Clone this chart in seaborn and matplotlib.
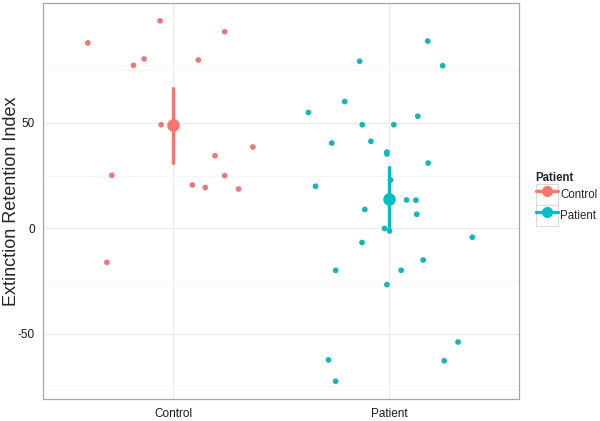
import matplotlib
matplotlib.use("Agg")
import matplotlib.pyplot as plt
import pandas as pd
import seaborn as sns
from matplotlib.legend_handler import HandlerLine2D
from matplotlib.lines import Line2D
from matplotlib.patches import Rectangle
from matplotlib.ticker import FixedLocator

# Dados (valores individuais e deslocamento horizontal do jitter)
groups = ["Control", "Patient"]
colors = {"Control": "#F8766D", "Patient": "#00BFC4"}
point_colors = {"Control": "#E67A7C", "Patient": "#14B6B9"}

control_values = [87.9, 98.4, 93.2, 77.3, 80.3, 79.8, 49.1, 25.1, 34.4, 38.5,
                  24.9, 20.5, 19.3, 18.6, -16.2]
control_jitter = [-0.394, -0.060, 0.239, -0.183, -0.134, 0.117, -0.055, -0.283,
                  0.194, 0.369, 0.239, 0.089, 0.149, 0.303, -0.306]

patient_values = [88.8, 77.1, 79.2, 60.1, 54.9, 53.1, 49.1, 49.1, 40.4, 41.2,
                  36.1, 35.2, 30.9, 19.9, 22.9, 13.4, 13.3, 8.9, 6.6, -0.1,
                  -1.3, -4.3, -6.8, -15.1, -20.0, -20.0, -26.8, -54.0, -62.5,
                  -62.9, -72.6]
patient_jitter = [0.178, 0.247, -0.137, -0.206, -0.374, 0.132, -0.125, 0.021,
                  -0.266, -0.085, -0.011, -0.011, 0.180, -0.341, 0.006, 0.080,
                  0.123, -0.113, 0.127, -0.022, 0.001, 0.384, -0.126, 0.157,
                  -0.248, 0.055, -0.011, 0.318, -0.281, 0.254, -0.248]

y_ticks = [-50, 0, 50]
y_minor = [-75, -25, 25, 75]

df = pd.DataFrame({
    "group": ["Control"] * len(control_values) + ["Patient"] * len(patient_values),
    "value": control_values + patient_values,
    "jitter": control_jitter + patient_jitter,
})
df["xpos"] = df["group"].map({g: i for i, g in enumerate(groups)}) + df["jitter"]

sns.set_theme(style="white")
plt.rcParams["font.family"] = ["Liberation Sans", "DejaVu Sans"]


class BoxedHandler(HandlerLine2D):
    """Chave da legenda com moldura cinza, no estilo do ggplot."""
    def create_artists(self, legend, orig_handle, xdescent, ydescent,
                       width, height, fontsize, trans):
        artists = super().create_artists(legend, orig_handle, xdescent, ydescent,
                                         width, height, fontsize, trans)
        box = Rectangle((-xdescent, -ydescent), width, height, facecolor="white",
                        edgecolor="#d9d9d9", linewidth=0.8, transform=trans)
        return [box] + list(artists)


fig, ax = plt.subplots(figsize=(6, 4.21), dpi=100)
fig.subplots_adjust(left=0.0722, right=0.865, top=0.9936, bottom=0.0515)

# Pontos individuais (jitter)
sns.scatterplot(data=df, x="xpos", y="value", hue="group", palette=point_colors,
                s=17, linewidth=0, legend=False, ax=ax, zorder=3)

# Média com intervalo de confiança de 95%
sns.pointplot(data=df, x="group", y="value", hue="group", palette=colors,
              order=groups, errorbar=("se", 1.96), linestyle="none",
              markersize=7, err_kws={"linewidth": 2.4}, legend=False, ax=ax,
              zorder=4)

ax.set_xlim(-0.6, 1.6)
ax.set_ylim(-81.2, 107)
ax.set_xticks(range(len(groups)))
ax.set_xticklabels(groups)
ax.set_yticks(y_ticks)
ax.set_yticklabels([str(t) for t in y_ticks])
ax.yaxis.set_minor_locator(FixedLocator(y_minor))

ax.grid(True, which="major", color="#ececec", linewidth=0.9)
ax.grid(True, which="minor", axis="y", color="#f5f5f5", linewidth=0.6)
ax.set_axisbelow(True)

for spine in ax.spines.values():
    spine.set_visible(True)
    spine.set_color("#a6a6a6")
    spine.set_linewidth(0.9)

ax.tick_params(axis="both", which="major", direction="out", length=3,
               width=0.8, color="#999999", labelsize=8.5, labelcolor="#1a1a1a", pad=3)
ax.tick_params(axis="y", which="minor", length=0)

ax.set_xlabel("")
ax.set_ylabel("Extinction Retention Index", fontsize=13)
ax.yaxis.set_label_coords(-0.0484, 0.5)

handles = [Line2D([], [], color=colors[g], marker="o", markersize=7,
                  linewidth=2.4) for g in groups]
leg = fig.legend(handles, groups, title="Patient", loc="upper left",
                 bbox_to_anchor=(0.889, 0.597), borderaxespad=0, frameon=False,
                 fontsize=8.3, title_fontsize=8.3, handlelength=1.95,
                 handleheight=2.45, handletextpad=0.2, labelspacing=0.0,
                 borderpad=0.2, alignment="left",
                 handler_map={Line2D: BoxedHandler(numpoints=1)})
leg.get_title().set_fontweight("bold")

fig.savefig("out.png", dpi=100)
